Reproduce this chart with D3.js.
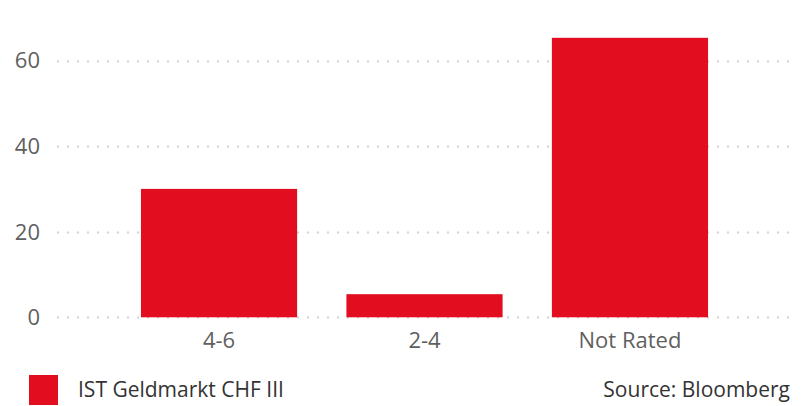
<!DOCTYPE html>
<html>
<head>
<meta charset="utf-8">
<script src="https://cdn.jsdelivr.net/npm/d3@7"></script>
<style>
  body { margin: 0; background: #fff; }
  svg text { font-family: "Open Sans", sans-serif; fill: #5f5f5f; }
</style>
</head>
<body>
<svg id="chart" width="804" height="406"></svg>
<script>
const categories = ['4-6', '2-4', 'Not Rated'];
const values = [30, 5.4, 65.3];
const yTicks = [0, 20, 40, 60];
const seriesName = 'IST Geldmarkt CHF III';
const sourceText = 'Source: Bloomberg';

const width = 804, height = 406;
const red = '#e20e1f';

const vis = d3.select('#chart');

const xScale = d3.scaleBand()
  .domain(categories)
  .range([116.3, 732.7])
  .paddingInner(0.24)
  .paddingOuter(0.12);

const yScale = d3.scaleLinear()
  .domain([0, 70])
  .range([317.3, 17.7]);

// dotted gridlines
vis.append('g')
  .selectAll('line')
  .data(yTicks)
  .join('line')
  .attr('x1', 57)
  .attr('x2', 793)
  .attr('y1', d => Math.round(yScale(d)) + 0.5)
  .attr('y2', d => Math.round(yScale(d)) + 0.5)
  .attr('stroke', '#d2d2d2')
  .attr('stroke-width', 2)
  .attr('stroke-dasharray', '2,8');

// y tick labels
vis.append('g')
  .selectAll('text')
  .data(yTicks)
  .join('text')
  .attr('x', 40)
  .attr('y', d => yScale(d))
  .attr('dy', '0.36em')
  .attr('text-anchor', 'end')
  .style('font-size', '22px')
  .text(d => d);

// bars
vis.append('g')
  .selectAll('rect')
  .data(categories)
  .join('rect')
  .attr('x', d => xScale(d))
  .attr('width', xScale.bandwidth())
  .attr('y', (d, i) => yScale(values[i]))
  .attr('height', (d, i) => yScale(0) - yScale(values[i]))
  .attr('fill', red);

// x labels
vis.append('g')
  .selectAll('text')
  .data(categories)
  .join('text')
  .attr('x', d => xScale(d) + xScale.bandwidth() / 2)
  .attr('y', 348)
  .attr('text-anchor', 'middle')
  .style('font-size', '22px')
  .text(d => d);

// legend
vis.append('rect')
  .attr('x', 29).attr('y', 375)
  .attr('width', 29).attr('height', 30)
  .attr('fill', red);

vis.append('text')
  .attr('x', 78).attr('y', 397)
  .style('font-size', '21px')
  .style('fill', '#333')
  .text(seriesName);

vis.append('text')
  .attr('x', 790).attr('y', 397)
  .attr('text-anchor', 'end')
  .style('font-size', '21px')
  .style('fill', '#333')
  .text(sourceText);
</script>
</body>
</html>
